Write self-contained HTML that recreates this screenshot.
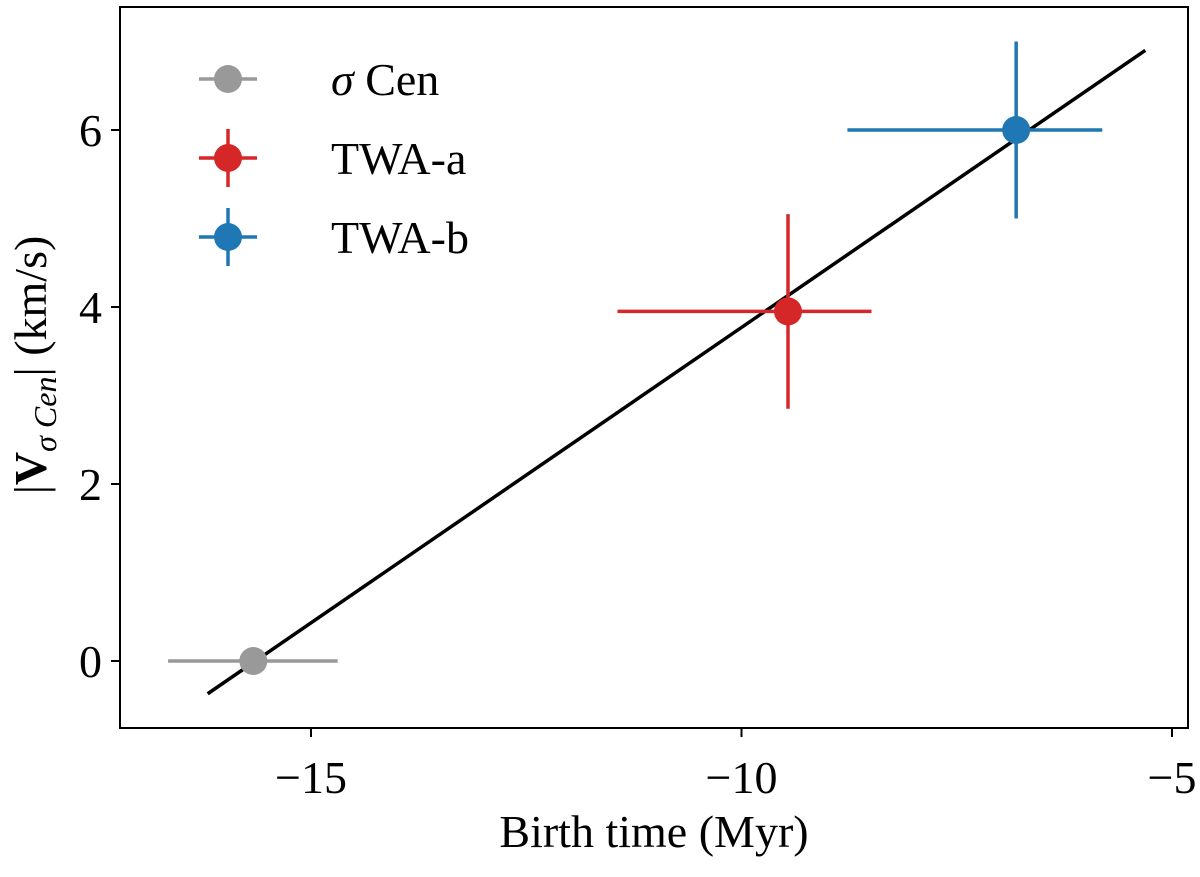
<!DOCTYPE html>
<html><head><meta charset="utf-8"><style>
body{margin:0;background:#fff}
text{font-family:"Liberation Serif",serif;fill:#000}
</style></head><body>
<svg id="chart" width="1200" height="872" xmlns="http://www.w3.org/2000/svg"></svg>
<script>
const names=["σ Cen","TWA-a","TWA-b"];
const colors=["#999999","#d62728","#1f77b4"];
const xs=[-15.67,-9.46,-6.81];
const ys=[0,3.95,6.0];
const xerrLo=[0.99,1.98,1.96];
const xerrHi=[0.98,0.97,1.0];
const yerrs=[0,1.1,1.0];
const fitX=[-16.2,-5.31];
const fitY=[-0.37,6.90];
const xticks=[-15,-10,-5];
const yticks=[0,2,4,6];
const L=120,R=1188,T=7,B=728;
const sx=v=>311+(v+15)*86.1;
const sy=v=>661-v*88.5;
const svg=document.getElementById('chart');
const NS="http://www.w3.org/2000/svg";
function mk(tag,attrs,parent){const e=document.createElementNS(NS,tag);for(const k in attrs)e.setAttribute(k,attrs[k]);(parent||svg).appendChild(e);return e;}
let fl=mk('line',{x1:sx(fitX[0]),y1:sy(fitY[0]),x2:sx(fitX[1]),y2:sy(fitY[1]),stroke:'#000','stroke-width':3.5});


for(let i=0;i<names.length;i++){
 const g=mk('g',{});
 
 
 const cx=sx(xs[i]),cy=sy(ys[i]);
 mk('line',{x1:sx(xs[i]-xerrLo[i]),y1:cy,x2:sx(xs[i]+xerrHi[i]),y2:cy,stroke:colors[i],'stroke-width':3.5},g);
 if(yerrs[i]>0)mk('line',{x1:cx,y1:sy(ys[i]-yerrs[i]),x2:cx,y2:sy(ys[i]+yerrs[i]),stroke:colors[i],'stroke-width':3.5},g);
 mk('circle',{cx:cx,cy:cy,r:14,fill:colors[i]},g);
}
let box=mk('rect',{x:L,y:T,width:R-L,height:B-T,fill:'none',stroke:'#000','stroke-width':2});


xticks.forEach(v=>{
 mk('line',{x1:sx(v),y1:B,x2:sx(v),y2:B+9,stroke:'#000','stroke-width':2});
 const t=mk('text',{x:sx(v),y:B+65,'font-size':46,'text-anchor':'middle'});t.textContent='−'+Math.abs(v);
 
 
});
yticks.forEach(v=>{
 mk('line',{x1:L-9,y1:sy(v),x2:L,y2:sy(v),stroke:'#000','stroke-width':2});
 const t=mk('text',{x:L-18,y:sy(v)+16,'font-size':46,'text-anchor':'end'});t.textContent=v;
 
 
});
for(let i=0;i<names.length;i++){
 const g=mk('g',{});
 
 
 const y=79+i*79,x=228;
 mk('line',{x1:x-29,y1:y,x2:x+29,y2:y,stroke:colors[i],'stroke-width':3.5},g);
 if(i>0)mk('line',{x1:x,y1:y-29,x2:x,y2:y+29,stroke:colors[i],'stroke-width':3.5},g);
 mk('circle',{cx:x,cy:y,r:14,fill:colors[i]},g);
 const t=mk('text',{x:331,y:y+16,'font-size':46},g);
 if(i==0){t.innerHTML='<tspan font-style="italic">σ</tspan> Cen';}else t.textContent=names[i];
}
let xl=mk('text',{x:654,y:847,'font-size':46,'text-anchor':'middle'});xl.textContent='Birth time (Myr)';


let yl=mk('text',{x:0,y:0,'font-size':46,'text-anchor':'middle',transform:'translate(46,365) rotate(-90)'});
yl.innerHTML='|<tspan font-weight="bold">V</tspan><tspan font-size="32" dy="10" font-style="italic">σ Cen</tspan><tspan dy="-10">| (km/s)</tspan>';


</script>
</body></html>
